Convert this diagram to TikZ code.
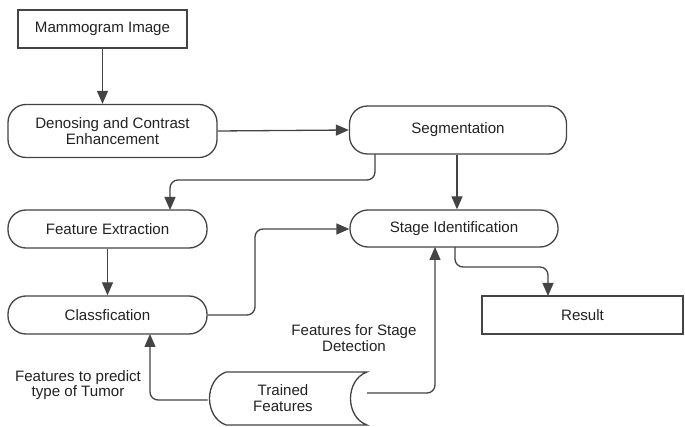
\documentclass[tikz,border=0pt]{standalone}
\usepackage{fontspec}
\setmainfont{Liberation Sans}
\usetikzlibrary{arrows.meta,calc}
\definecolor{ln}{HTML}{444444}
\definecolor{tx}{HTML}{222222}
\begin{document}
\begin{tikzpicture}[x=1pt,y=-1pt,
  every node/.style={font=\fontsize{15.1}{16}\selectfont, text=tx, align=center, inner sep=0pt},
  sqbox/.style={draw=ln, line width=1.3pt, rectangle},
  rbox/.style={draw=ln, line width=1.3pt, rectangle, rounded corners=18pt},
  conn/.style={draw=ln, line width=1.3pt, rounded corners=8pt, -{Triangle[length=13pt,width=11pt]}},
  lbl/.style={font=\fontsize{15.1}{15.5}\selectfont}]
\useasboundingbox (0,0) rectangle (685,427);
\node[sqbox, minimum width=169pt, minimum height=38pt] (mamm) at (102.5,29) {Mammogram Image};
\node[rbox, minimum width=209pt, minimum height=53pt] (den) at (112.5,131) {Denosing and Contrast\\Enhancement};
\node[rbox, minimum width=217pt, minimum height=48pt] (seg) at (458,130) {Segmentation};
\node[rbox, minimum width=199pt, minimum height=38pt] (fe) at (107.5,229) {Feature Extraction};
\node[rbox, minimum width=208pt, minimum height=37pt] (st) at (454,228.5) {Stage Identification};
\node[rbox, minimum width=199pt, minimum height=38pt] (cl) at (107.5,315) {Classfication};
\node[sqbox, minimum width=201pt, minimum height=38pt] (res) at (582.5,315) {Result};
% trained features (stored data shape)
\draw[ln, line width=1.3pt] (226,372) -- (367,372) .. controls (345,380) and (345,417) .. (367,425)
  -- (226,425) .. controls (204,417) and (204,380) .. (226,372) -- cycle;
\node (tf) at (283,398) {Trained\\Features};
\coordinate (tfl) at (207.5,400);
\coordinate (tfr) at (367,393);
\node[lbl] (l1) at (78,385) {Features to predict\\type of Tumor};
\node[lbl] (l2) at (354,338) {Features for Stage\\Detection};
% connectors
\draw[conn] (mamm.south) -- (mamm.south |- den.north);
\draw[conn] (den.east) -- (seg.west);
\draw[conn] ($(seg.south)+(-1,0)$) -- ($(seg.south |- st.north)+(-1,0)$);
\draw[conn] (375,154) -- (375,180) -- (170,180) -- (170,210);
\draw[conn] (fe.south) -- (cl.north);
\draw[conn] (cl.east) -- (255,315) -- (255,229) -- (st.west |- 0,229);
\draw[conn] (tfl) -- (150,400) -- (150,334);
\draw[conn] (tfr) -- (435,393) -- (435,247);
\draw[conn] (455,247) -- (455,267) -- (548,267) -- (548,296);
\end{tikzpicture}
\end{document}
